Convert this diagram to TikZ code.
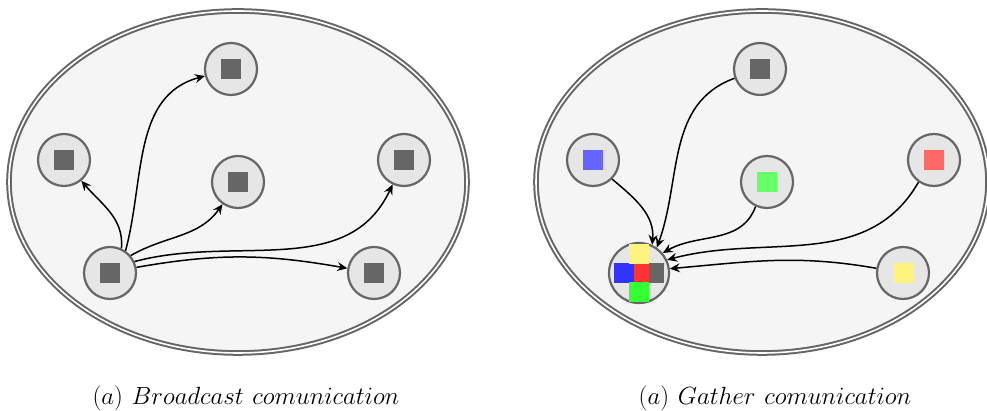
\documentclass[tikz,border=0pt]{standalone}
\usetikzlibrary{arrows.meta}

\definecolor{linegray}{HTML}{666666}
\definecolor{groupfill}{HTML}{F5F5F5}
\definecolor{procfill}{HTML}{E6E6E6}
\definecolor{lblue}{HTML}{6666FF}
\definecolor{lgreen}{HTML}{66FF66}
\definecolor{lred}{HTML}{FF6666}
\definecolor{lyellow}{HTML}{FFF380}
\definecolor{dblue}{HTML}{3333FF}
\definecolor{dgreen}{HTML}{33FF33}
\definecolor{dred}{HTML}{FF3333}

\tikzset{
	group/.style={draw=linegray,double=white,line width=2pt,double distance=1.6pt,fill=groupfill},
	proc/.style={circle,draw=linegray,line width=2.2pt,fill=procfill,minimum size=52pt,inner sep=0pt},
	data/.style={rectangle,fill=#1,minimum size=20pt,inner sep=0pt},
	msg/.style={line width=1.5pt,-{Stealth[length=10pt,width=9pt,inset=3.5pt]}},
	caption/.style={anchor=base,font=\fontsize{29}{35}\selectfont}
}

\begin{document}
\begin{tikzpicture}[x=1pt,y=1pt]
	\useasboundingbox (0,0) rectangle (987,411);

	% groups
	\draw[group] (238,229) ellipse [x radius=229, y radius=171];
	\draw[group] (762,229) ellipse [x radius=226, y radius=171];

	% broadcast
	\node[proc] (src) at (110,138) {};
	\node[proc] (ltop) at (231,342) {};
	\node[proc] (lleft) at (64,251) {};
	\node[proc] (lmid) at (238,229) {};
	\node[proc] (lright) at (404,251) {};
	\node[proc] (lbr) at (374,138) {};
	\foreach \n in {src,ltop,lleft,lmid,lright,lbr}
		\node[data=linegray] (\n-d) at (\n) {};

	\draw[msg] (src.65) to[out=85,in=-50] (lleft);
	\draw[msg] (src.55) to[out=75,in=195] (ltop);
	\draw[msg] (src.40) to[out=30,in=-125] (lmid);
	\draw[msg] (src.25) to[out=15,in=-115] (lright);
	\draw[msg] (src.12) to[out=10,in=170] (lbr);

	% gather
	\node[proc,minimum size=60pt] (dst) at (639,138) {};
	\node[proc] (gtop) at (760,342) {};
	\node[proc] (gblue) at (593,251) {};
	\node[proc] (ggreen) at (767,229) {};
	\node[proc] (gred) at (934,251) {};
	\node[proc] (gyel) at (903,138) {};
	\node[data=linegray] (gtop-d) at (gtop) {};
	\node[data=lblue] (gblue-d) at (gblue) {};
	\node[data=lgreen] (ggreen-d) at (ggreen) {};
	\node[data=lred] (gred-d) at (gred) {};
	\node[data=lyellow] (gyel-d) at (gyel) {};

	\node[data=linegray] (dst-k) at (654,137.5) {};
	\node[data=dred] (dst-r) at (639,137.5) {};
	\node[data=dblue] (dst-b) at (624,137.5) {};
	\node[data=lyellow] (dst-y) at (639,156.5) {};
	\node[data=dgreen] (dst-g) at (639,119) {};

	\draw[msg] (gblue.-45) to[out=-40,in=85] (dst.65);
	\draw[msg] (gtop.200) to[out=200,in=70] (dst.55);
	\draw[msg] (ggreen.-115) to[out=-110,in=30] (dst.40);
	\draw[msg] (gred.-125) to[out=-120,in=15] (dst.25);
	\draw[msg] (gyel.170) to[out=170,in=5] (dst.8);

	% captions
	\node[caption] (capa) at (246,6) {$(a)\ Broadcast\ comunication$};
	\node[caption] (capb) at (775,6) {$(a)\ Gather\ comunication$};
\end{tikzpicture}
\end{document}
